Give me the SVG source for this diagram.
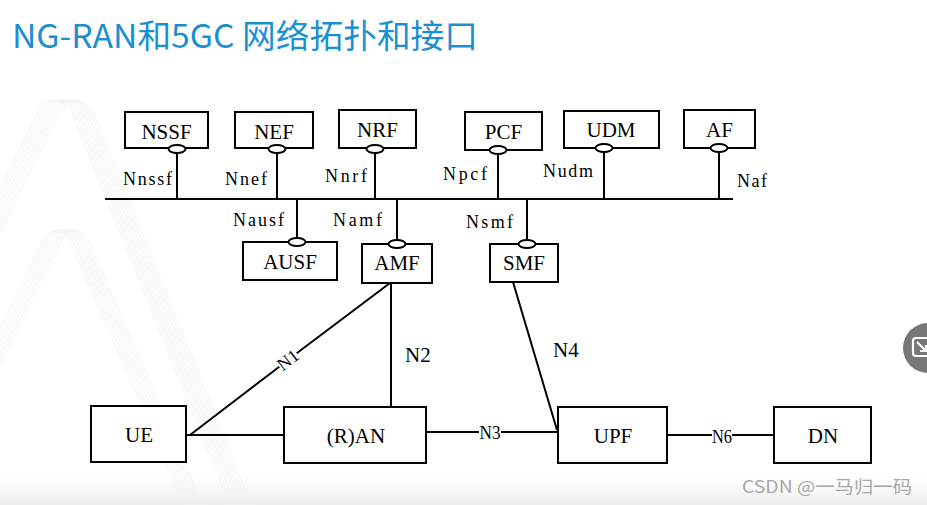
<svg xmlns="http://www.w3.org/2000/svg" width="927" height="505" viewBox="0 0 927 505">
  <defs>
    <linearGradient id="floor" x1="0" y1="0" x2="0" y2="1">
      <stop offset="0" stop-color="#ffffff"/>
      <stop offset="1" stop-color="#eeeeee"/>
    </linearGradient>
    <g id="arch">
      <path d="M-30,250 L38,112 Q55,88 72,112 L230,505"/>
    </g>
    <g id="archInner">
      <path d="M-30,390 L45,238 Q57,222 69,238 L185,505"/>
    </g>
  </defs>
  <style>
    .box { fill: #ffffff; stroke: #000000; stroke-width: 2; }
    .port { fill: #ffffff; stroke: #000000; stroke-width: 2; }
    .wire { fill: none; stroke: #000000; stroke-width: 2; }
    .serif { font-family: 'Liberation Serif', 'DejaVu Serif', serif; fill: #000000; }
    .name { font-size: 21px; text-anchor: middle; }
    .ifc { font-size: 18px; }
    .ref { font-size: 21px; }
    .tag { font-size: 18px; text-anchor: middle; }
    .deco { fill: none; stroke: #f1f1f1; stroke-width: 1; }
  </style>

  <!-- page background -->
  <rect x="0" y="0" width="927" height="505" fill="#ffffff"/>
  <rect x="0" y="476" width="927" height="29" fill="url(#floor)"/>

  <!-- faint backdrop stripes -->
  <g class="deco">
    <use href="#arch"/>
    <use href="#arch" transform="translate(3,0)"/>
    <use href="#arch" transform="translate(6,0)"/>
    <use href="#arch" transform="translate(9,0)"/>
    <use href="#arch" transform="translate(12,0)"/>
    <use href="#arch" transform="translate(15,0)"/>
    <use href="#arch" transform="translate(18,0)"/>
    <use href="#arch" transform="translate(21,0)"/>
    <use href="#archInner"/>
    <use href="#archInner" transform="translate(3,0)"/>
    <use href="#archInner" transform="translate(6,0)"/>
    <use href="#archInner" transform="translate(9,0)"/>
    <use href="#archInner" transform="translate(12,0)"/>
    <use href="#archInner" transform="translate(15,0)"/>
    <use href="#archInner" transform="translate(18,0)"/>
  </g>

  <!-- title -->
  <text x="12" y="48" font-family="'Noto Sans CJK SC', 'Noto Sans', sans-serif" font-size="33" fill="#1b8fd2" textLength="466" lengthAdjust="spacingAndGlyphs">NG-RAN和5GC 网络拓扑和接口</text>

  <!-- connectors -->
  <g id="connectors">
    <!-- service bus -->
    <path class="wire" d="M105,199 H733"/>
    <path class="wire" d="M177,153 V199 M277,153 V199 M375,153 V199 M498,154 V199 M604,152 V199 M719,152 V199"/>
    <path class="wire" d="M297,199 V238 M397,199 V240 M527,199 V240"/>
    <!-- reference points -->
    <path class="wire" d="M190,435 L279.3,366.7 M296.7,353.3 L390,283"/>
    <path class="wire" d="M391,283 V407"/>
    <path class="wire" d="M186,435 H284"/>
    <path class="wire" d="M426,432 H479 M501,432 H557"/>
    <path class="wire" d="M513,282 L557,430"/>
    <path class="wire" d="M667,435 H712 M732,435 H774"/>

    <text class="serif ifc" x="123" y="185" textLength="49">Nnssf</text>
    <text class="serif ifc" x="225" y="185" textLength="42">Nnef</text>
    <text class="serif ifc" x="325" y="182" textLength="42">Nnrf</text>
    <text class="serif ifc" x="443" y="180" textLength="44">Npcf</text>
    <text class="serif ifc" x="543" y="177" textLength="50">Nudm</text>
    <text class="serif ifc" x="737" y="187" textLength="30">Naf</text>
    <text class="serif ifc" x="233" y="226" textLength="51">Nausf</text>
    <text class="serif ifc" x="333" y="226" textLength="49">Namf</text>
    <text class="serif ifc" x="466" y="228" textLength="47">Nsmf</text>

    <text class="serif tag" x="0" y="6" transform="translate(288,360) rotate(-37)" textLength="22" lengthAdjust="spacingAndGlyphs">N1</text>
    <text class="serif ref" x="405" y="362">N2</text>
    <text class="serif tag" x="490" y="439" textLength="21" lengthAdjust="spacingAndGlyphs">N3</text>
    <text class="serif ref" x="553" y="357" font-size="20">N4</text>
    <text class="serif tag" x="722" y="443" textLength="20" lengthAdjust="spacingAndGlyphs">N6</text>
  </g>

  <!-- network functions on the service bus -->
  <g id="nssf">
    <rect class="box" x="125" y="112" width="83" height="36"/>
    <ellipse class="port" cx="177" cy="149" rx="8.5" ry="4"/>
    <text class="serif name" x="166.5" y="139">NSSF</text>
  </g>
  <g id="nef">
    <rect class="box" x="235" y="112" width="78" height="36"/>
    <ellipse class="port" cx="277" cy="149" rx="8.5" ry="4"/>
    <text class="serif name" x="274" y="139">NEF</text>
  </g>
  <g id="nrf">
    <rect class="box" x="339" y="110" width="77" height="38"/>
    <ellipse class="port" cx="375" cy="149" rx="8.5" ry="4"/>
    <text class="serif name" x="377.5" y="137">NRF</text>
  </g>
  <g id="pcf">
    <rect class="box" x="465" y="112" width="77" height="38"/>
    <ellipse class="port" cx="498" cy="150" rx="8.5" ry="4"/>
    <text class="serif name" x="503.5" y="139">PCF</text>
  </g>
  <g id="udm">
    <rect class="box" x="564" y="111" width="95" height="37"/>
    <ellipse class="port" cx="604" cy="148" rx="8.5" ry="4"/>
    <text class="serif name" x="611" y="137">UDM</text>
  </g>
  <g id="af">
    <rect class="box" x="684" y="110" width="71" height="38"/>
    <ellipse class="port" cx="719" cy="148" rx="8.5" ry="4"/>
    <text class="serif name" x="719.5" y="137">AF</text>
  </g>
  <g id="ausf">
    <rect class="box" x="243" y="242" width="94" height="38"/>
    <ellipse class="port" cx="297" cy="242" rx="8.5" ry="4"/>
    <text class="serif name" x="290" y="269">AUSF</text>
  </g>
  <g id="amf">
    <rect class="box" x="362" y="244" width="70" height="39"/>
    <ellipse class="port" cx="397" cy="244" rx="8.5" ry="4"/>
    <text class="serif name" x="397" y="270">AMF</text>
  </g>
  <g id="smf">
    <rect class="box" x="490" y="244" width="68" height="38"/>
    <ellipse class="port" cx="527" cy="244" rx="8.5" ry="4"/>
    <text class="serif name" x="524" y="270">SMF</text>
  </g>

  <!-- user plane nodes -->
  <g id="ue">
    <rect class="box" x="91" y="406" width="95" height="56"/>
    <text class="serif name" x="139" y="442">UE</text>
  </g>
  <g id="ran">
    <rect class="box" x="284" y="407" width="142" height="56"/>
    <text class="serif name" x="356" y="443">(R)AN</text>
  </g>
  <g id="upf">
    <rect class="box" x="558" y="407" width="109" height="56"/>
    <text class="serif name" x="613" y="443">UPF</text>
  </g>
  <g id="dn">
    <rect class="box" x="774" y="407" width="97" height="56"/>
    <text class="serif name" x="823" y="443">DN</text>
  </g>

  <!-- corner button -->
  <g id="corner-button">
    <circle cx="928" cy="348" r="25" fill="#777777"/>
    <rect x="913" y="338" width="22" height="18" rx="3" fill="none" stroke="#ffffff" stroke-width="2.2"/>
    <path d="M917,342 L926,351 M920,351 H926 V345" fill="none" stroke="#ffffff" stroke-width="2.2"/>
  </g>

  <!-- credit -->
  <text x="742" y="493" font-family="'Noto Sans CJK SC', 'Noto Sans', sans-serif" font-size="17" fill="#a8a8a8" textLength="170" lengthAdjust="spacingAndGlyphs">CSDN @一马归一码</text>
</svg>
